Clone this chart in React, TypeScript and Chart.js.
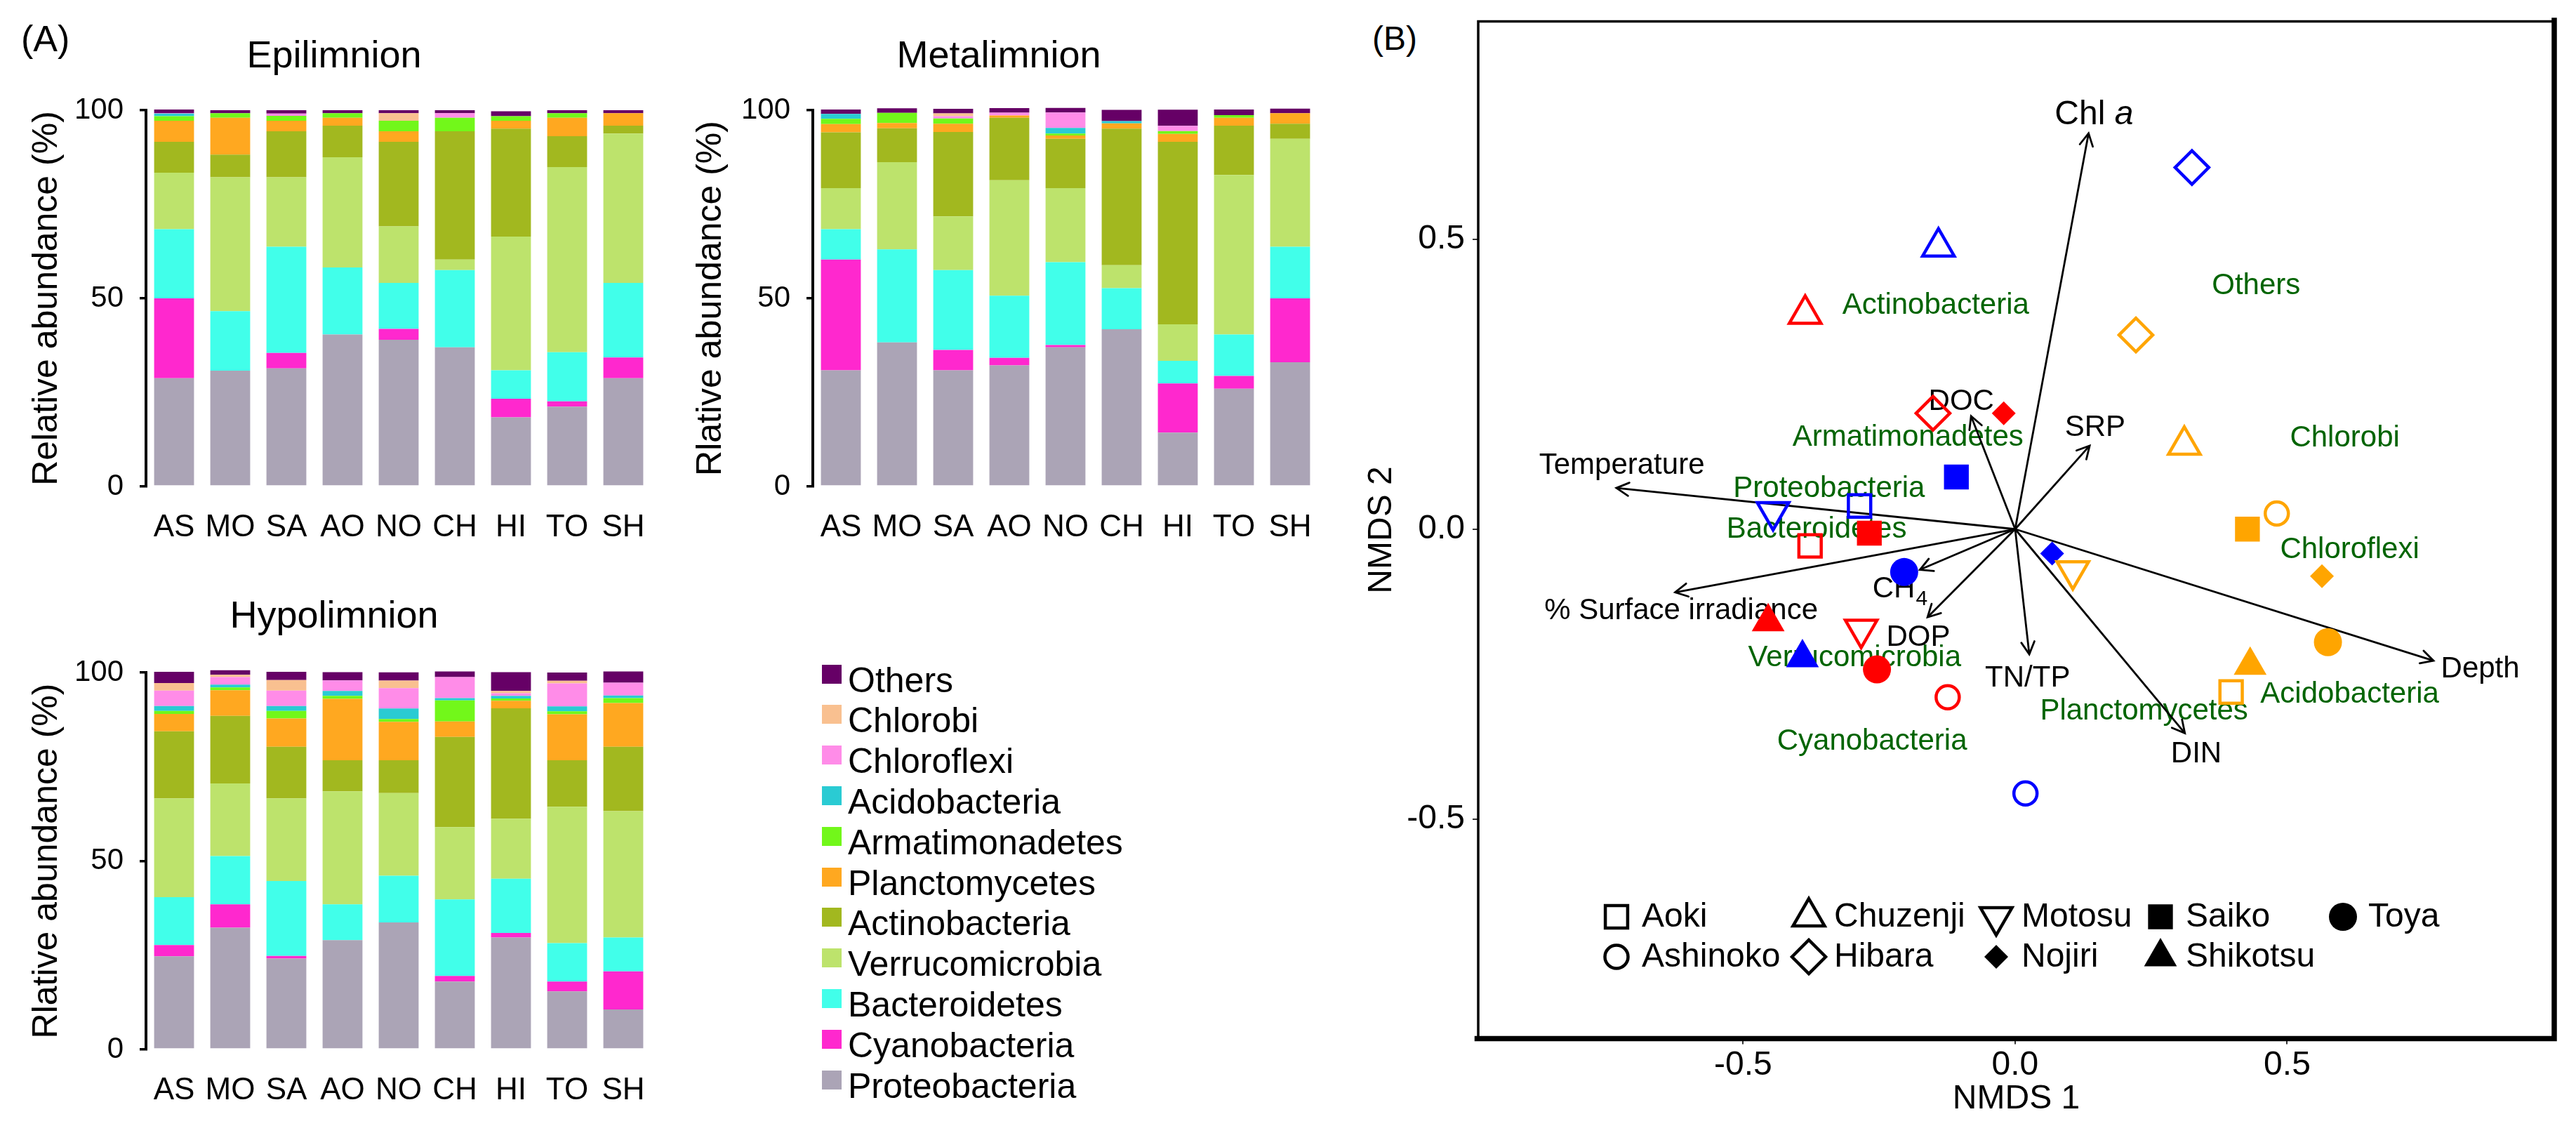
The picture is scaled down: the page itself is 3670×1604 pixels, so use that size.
import React, { useEffect, useRef } from 'react';
import { Chart, registerables } from 'chart.js';

Chart.register(...registerables);

const FONT = '"Liberation Sans", Arial, Helvetica, sans-serif';
Chart.defaults.font.family = FONT;
Chart.defaults.color = '#000';

// ---------- Panel A data ----------
const LAKES = ['AS', 'MO', 'SA', 'AO', 'NO', 'CH', 'HI', 'TO', 'SH'];
const PHYLA = ['Proteobacteria', 'Cyanobacteria', 'Bacteroidetes', 'Verrucomicrobia', 'Actinobacteria',
  'Planctomycetes', 'Armatimonadetes', 'Acidobacteria', 'Chloroflexi', 'Chlorobi', 'Others'];
const PHYLA_COLORS = ['#ABA4B6', '#FF28CE', '#41FFEA', '#BDE36C', '#A2B81F',
  '#FFA820', '#72F71A', '#2ACBD3', '#FF8CE8', '#F9C090', '#660066'];
const BAR_TICKS = [0, 50, 100];

// rows follow PHYLA order, columns follow LAKES order (%)
const EPILIMNION = [
  [28.8, 30.8, 31.4, 40.4, 39.0, 37.0, 18.4, 21.2, 28.8],
  [21.2, 0, 4.1, 0, 2.9, 0, 4.9, 1.4, 5.5],
  [18.4, 15.8, 28.2, 17.8, 12.2, 20.5, 7.6, 13.1, 19.8],
  [15.0, 35.6, 18.5, 29.3, 15.0, 2.8, 35.5, 49.2, 39.7],
  [8.2, 6.0, 12.2, 8.4, 22.5, 34.1, 28.7, 8.2, 2.1],
  [5.6, 9.8, 2.8, 2.1, 2.8, 0, 2.1, 4.9, 3.3],
  [1.2, 1.2, 1.3, 1.2, 2.8, 3.6, 1.2, 1.2, 0],
  [0.7, 0, 0, 0, 0, 0, 0, 0, 0],
  [0.1, 0, 0.6, 0, 0, 1.2, 0, 0, 0],
  [0, 0, 0, 0, 2.0, 0, 0, 0, 0],
  [1.0, 0.8, 0.9, 0.8, 0.8, 0.8, 1.3, 0.8, 0.8],
];
const METALIMNION = [
  [30.9, 38.3, 30.9, 32.2, 37.0, 41.8, 14.3, 26.0, 33.0],
  [29.4, 0, 5.4, 2.0, 0.6, 0, 13.1, 3.4, 17.0],
  [8.1, 24.7, 21.2, 16.5, 22.0, 10.9, 6.0, 11.0, 13.7],
  [10.9, 23.2, 14.3, 30.7, 19.7, 6.1, 9.7, 42.4, 28.7],
  [14.8, 9.0, 22.4, 16.6, 13.1, 36.3, 48.5, 13.1, 4.0],
  [2.2, 1.4, 2.2, 0.6, 0.9, 1.4, 2.1, 2.1, 2.8],
  [1.4, 2.7, 1.4, 0, 0.5, 0, 0.75, 0.7, 0],
  [1.3, 0, 0, 0, 1.5, 0.6, 0, 0, 0],
  [0, 0, 0.6, 0.75, 4.1, 0, 1.4, 0, 0],
  [0, 0, 0.75, 0, 0, 0, 0, 0, 0],
  [1.2, 1.2, 1.2, 1.2, 1.2, 3.0, 4.3, 1.5, 1.2],
];
const HYPOLIMNION = [
  [24.7, 32.3, 24.1, 29.0, 33.7, 18.0, 29.7, 15.4, 10.6],
  [3.0, 6.2, 0.7, 0, 0, 1.5, 1.2, 2.6, 10.1],
  [12.7, 12.8, 19.9, 9.5, 12.4, 20.3, 14.4, 10.2, 9.0],
  [26.2, 19.3, 21.9, 30.0, 21.9, 19.2, 15.9, 36.2, 33.5],
  [17.8, 17.9, 13.7, 8.2, 8.7, 23.9, 29.3, 12.3, 17.1],
  [4.6, 6.8, 7.5, 16.3, 10.2, 4.1, 2.0, 12.2, 11.6],
  [0.8, 0.75, 2.0, 0.8, 0.75, 5.6, 0.6, 0.8, 1.3],
  [1.3, 0.75, 1.3, 1.3, 2.8, 0.6, 0.7, 1.3, 0.7],
  [4.1, 2.0, 4.1, 2.8, 5.4, 5.6, 0.7, 6.1, 3.4],
  [2.0, 0.6, 2.8, 0, 2.0, 0, 0.6, 0.7, 0],
  [3.0, 1.2, 2.2, 2.2, 2.2, 1.5, 5.0, 2.2, 3.0],
];

// ---------- Panel B data ----------
const LAKE_NAMES = ['Aoki', 'Ashinoko', 'Chuzenji', 'Hibara', 'Motosu', 'Nojiri', 'Saiko', 'Shikotsu', 'Toya'];
const LAYER_COLORS = ['#0000FF', '#FF0000', '#FFA500']; // epi, meta, hypo
const NMDS_EPI_X = [-0.286, 0.019, -0.141, 0.325, -0.445, 0.068, -0.108, -0.391, -0.204];
const NMDS_EPI_Y = [0.040, -0.456, 0.487, 0.624, 0.030, -0.042, 0.090, -0.222, -0.074];
const NMDS_META_X = [-0.377, -0.124, -0.386, -0.151, -0.283, -0.021, -0.268, -0.454, -0.254];
const NMDS_META_Y = [-0.029, -0.290, 0.371, 0.200, -0.173, 0.200, -0.007, -0.160, -0.242];
const NMDS_HYPO_X = [0.397, 0.481, 0.311, 0.222, 0.106, 0.564, 0.427, 0.432, 0.575];
const NMDS_HYPO_Y = [-0.281, 0.027, 0.145, 0.335, -0.072, -0.081, 0.000, -0.235, -0.195];
const NMDS_TICKS = [-0.5, 0, 0.5];

const ENV_NAMES = ['Chl a', 'DOC', 'SRP', 'Temperature', '% Surface irradiance', 'CH4', 'DOP', 'TN/TP', 'DIN', 'Depth'];
const ENV_X = [0.135, -0.081, 0.137, -0.733, -0.625, -0.175, -0.161, 0.026, 0.312, 0.769];
const ENV_Y = [0.683, 0.195, 0.144, 0.071, -0.109, -0.070, -0.152, -0.216, -0.352, -0.227];
const ENV_LABEL_X = [0.145, -0.099, 0.147, -0.723, -0.614, -0.223, -0.178, 0.023, 0.333, 0.855];
const ENV_LABEL_Y = [0.715, 0.220, 0.175, 0.110, -0.141, -0.104, -0.187, -0.258, -0.388, -0.242];

const SPECIES_NAMES = ['Others', 'Actinobacteria', 'Armatimonadetes', 'Chlorobi', 'Proteobacteria', 'Bacteroidetes',
  'Chloroflexi', 'Verrucomicrobia', 'Acidobacteria', 'Planctomycetes', 'Cyanobacteria'];
const SPECIES_X = [0.443, -0.146, -0.197, 0.606, -0.342, -0.365, 0.615, -0.295, 0.615, 0.237, -0.263];
const SPECIES_Y = [0.420, 0.386, 0.158, 0.157, 0.069, -0.001, -0.036, -0.222, -0.285, -0.314, -0.367];

// marker styles per lake (style, radius, rotation, filled)
const LAKE_MARKERS = [
  { style: 'rect', r: 22.5, rot: 0, filled: false },
  { style: 'circle', r: 16.5, rot: 0, filled: false },
  { style: 'triangle', r: 26, rot: 0, filled: false },
  { style: 'rectRot', r: 24, rot: 0, filled: false },
  { style: 'triangle', r: 26, rot: 180, filled: false },
  { style: 'rectRot', r: 17, rot: 0, filled: true },
  { style: 'rect', r: 25, rot: 0, filled: true },
  { style: 'triangle', r: 27, rot: 0, filled: true },
  { style: 'circle', r: 20, rot: 0, filled: true },
];

const SPECIES_COLOR = '#006400';

function markerPath(ctx: CanvasRenderingContext2D, style: string, x: number, y: number, r: number, rot: number) {
  ctx.beginPath();
  if (style === 'circle') {
    ctx.arc(x, y, r, 0, Math.PI * 2);
  } else if (style === 'rect') {
    const s = r * Math.SQRT1_2;
    ctx.rect(x - s, y - s, 2 * s, 2 * s);
  } else if (style === 'rectRot') {
    ctx.moveTo(x - r, y);
    ctx.lineTo(x, y - r);
    ctx.lineTo(x + r, y);
    ctx.lineTo(x, y + r);
    ctx.closePath();
  } else {
    let a = (rot * Math.PI) / 180;
    for (let k = 0; k < 3; k++) {
      const px = x + Math.sin(a) * r;
      const py = y - Math.cos(a) * r;
      if (k === 0) ctx.moveTo(px, py);
      else ctx.lineTo(px, py);
      a += (2 * Math.PI) / 3;
    }
    ctx.closePath();
  }
}

function BarPanel(props: { left: number; top: number; height: number; padTop: number; values: number[][]; yTitle: string; titlePad: number }) {
  const ref = useRef<HTMLCanvasElement>(null);
  useEffect(() => {
    const chart = new Chart(ref.current as HTMLCanvasElement, {
      type: 'bar',
      data: {
        labels: LAKES,
        datasets: PHYLA.map((name, i) => ({
          label: name,
          data: props.values[i],
          backgroundColor: PHYLA_COLORS[i],
          borderWidth: 0,
          barPercentage: 0.71,
          categoryPercentage: 1,
          clip: false as any,
        })),
      },
      options: {
        responsive: false,
        animation: false,
        devicePixelRatio: 1,
        layout: { padding: { top: props.padTop, right: 12, left: 0, bottom: 0 } },
        plugins: { legend: { display: false }, tooltip: { enabled: false }, title: { display: false } },
        scales: {
          x: {
            stacked: true,
            grid: { display: false },
            border: { display: false },
            ticks: { font: { family: FONT, size: 44 }, color: '#000', padding: 24, maxRotation: 0, autoSkip: false },
            afterFit: (s: any) => { s.height = 90; s.paddingLeft = 0; s.paddingRight = 0; },
          },
          y: {
            stacked: true,
            min: 0,
            max: 100,
            grid: { drawOnChartArea: false, drawTicks: true, tickLength: 9, color: '#000', lineWidth: 3.5 },
            border: { display: true, color: '#000', width: 4 },
            ticks: { font: { family: FONT, size: 42 }, color: '#000', padding: 23 },
            afterBuildTicks: (s: any) => { s.ticks = BAR_TICKS.map((v) => ({ value: v })); },
            afterFit: (s: any) => { s.width = 208; s.paddingTop = 0; s.paddingBottom = 0; },
            title: { display: true, text: props.yTitle, font: { family: FONT, size: 50 }, color: '#000', padding: { top: props.titlePad, bottom: 0 } },
          },
        },
      } as any,
    });
    return () => chart.destroy();
  }, []);
  return (
    <canvas
      ref={ref}
      width={940}
      height={props.height}
      style={{ position: 'absolute', left: props.left, top: props.top, width: 940, height: props.height }}
    />
  );
}

function NmdsPanel() {
  const ref = useRef<HTMLCanvasElement>(null);
  useEffect(() => {
    const arrowSets = ENV_NAMES.map((name, i) => ({
      label: name,
      isArrow: true,
      data: [{ x: 0, y: 0 }, { x: ENV_X[i], y: ENV_Y[i] }],
      showLine: true,
      borderColor: '#000',
      borderWidth: 2.8,
      pointRadius: 0,
      order: 10,
    }));
    const lakeSets = LAKE_NAMES.map((name, i) => {
      const m = LAKE_MARKERS[i];
      return {
        label: name,
        data: [
          { x: NMDS_EPI_X[i], y: NMDS_EPI_Y[i] },
          { x: NMDS_META_X[i], y: NMDS_META_Y[i] },
          { x: NMDS_HYPO_X[i], y: NMDS_HYPO_Y[i] },
        ],
        showLine: false,
        pointStyle: m.style,
        pointRadius: m.r,
        pointRotation: m.rot,
        pointBorderColor: LAYER_COLORS,
        pointBackgroundColor: m.filled ? LAYER_COLORS : 'rgba(0,0,0,0)',
        pointBorderWidth: m.filled ? 0 : 4.5,
        order: 1,
      };
    });

    const decor = {
      id: 'nmdsDecor',
      beforeDatasetsDraw(chart: any) {
        const ctx: CanvasRenderingContext2D = chart.ctx;
        const xs = chart.scales.x;
        const ys = chart.scales.y;
        ctx.save();
        ctx.textAlign = 'center';
        ctx.textBaseline = 'middle';
        ctx.font = `42px ${FONT}`;
        ctx.fillStyle = SPECIES_COLOR;
        SPECIES_NAMES.forEach((n, i) => {
          ctx.fillText(n, xs.getPixelForValue(SPECIES_X[i]), ys.getPixelForValue(SPECIES_Y[i]));
        });
        ctx.fillStyle = '#000';
        ENV_NAMES.forEach((n, i) => {
          const px = xs.getPixelForValue(ENV_LABEL_X[i]);
          const py = ys.getPixelForValue(ENV_LABEL_Y[i]);
          if (n === 'CH4') {
            ctx.font = `42px ${FONT}`;
            ctx.textAlign = 'center';
            ctx.fillText('CH', px, py);
            const w = ctx.measureText('CH').width;
            ctx.font = `30px ${FONT}`;
            ctx.textAlign = 'left';
            ctx.fillText('4', px + w / 2 + 1, py + 14);
            ctx.textAlign = 'center';
            ctx.font = `42px ${FONT}`;
          } else if (n === 'Chl a') {
            ctx.font = `48px ${FONT}`;
            const w1 = ctx.measureText('Chl ').width;
            ctx.font = `italic 48px ${FONT}`;
            const w2 = ctx.measureText('a').width;
            const sx = px - (w1 + w2) / 2;
            ctx.textAlign = 'left';
            ctx.font = `48px ${FONT}`;
            ctx.fillText('Chl ', sx, py);
            ctx.font = `italic 48px ${FONT}`;
            ctx.fillText('a', sx + w1, py);
            ctx.textAlign = 'center';
            ctx.font = `42px ${FONT}`;
          } else {
            ctx.fillText(n, px, py);
          }
        });
        ctx.restore();
      },
      afterDatasetDraw(chart: any, args: any) {
        const ds = chart.data.datasets[args.index];
        if (!ds.isArrow) return;
        const ctx: CanvasRenderingContext2D = chart.ctx;
        const xs = chart.scales.x;
        const ys = chart.scales.y;
        const x0 = xs.getPixelForValue(ds.data[0].x);
        const y0 = ys.getPixelForValue(ds.data[0].y);
        const x1 = xs.getPixelForValue(ds.data[1].x);
        const y1 = ys.getPixelForValue(ds.data[1].y);
        const ang = Math.atan2(y1 - y0, x1 - x0);
        const L = 20;
        const spread = (28 * Math.PI) / 180;
        ctx.save();
        ctx.strokeStyle = '#000';
        ctx.lineWidth = 2.8;
        ctx.lineCap = 'round';
        ctx.beginPath();
        ctx.moveTo(x1 - L * Math.cos(ang - spread), y1 - L * Math.sin(ang - spread));
        ctx.lineTo(x1, y1);
        ctx.lineTo(x1 - L * Math.cos(ang + spread), y1 - L * Math.sin(ang + spread));
        ctx.stroke();
        ctx.restore();
      },
      afterDraw(chart: any) {
        const ctx: CanvasRenderingContext2D = chart.ctx;
        const a = chart.chartArea;
        ctx.save();
        ctx.strokeStyle = '#000';
        ctx.lineCap = 'square';
        ctx.lineWidth = 3.5;
        ctx.beginPath();
        ctx.moveTo(a.left, a.bottom);
        ctx.lineTo(a.left, a.top);
        ctx.lineTo(a.right, a.top);
        ctx.stroke();
        ctx.lineWidth = 7.5;
        ctx.beginPath();
        ctx.moveTo(a.right, a.top - 1.5);
        ctx.lineTo(a.right, a.bottom);
        ctx.lineTo(a.left - 1.5, a.bottom);
        ctx.stroke();

        // legend
        const colX = [363, 637, 904, 1138, 1398];
        const rowY = [1306, 1363];
        ctx.font = `48px ${FONT}`;
        ctx.textAlign = 'left';
        ctx.textBaseline = 'middle';
        LAKE_NAMES.forEach((name, i) => {
          const m = LAKE_MARKERS[i];
          const cx = colX[Math.floor(i / 2)];
          const cy = rowY[i % 2];
          markerPath(ctx, m.style, cx, cy, m.r, m.rot);
          if (m.filled) {
            ctx.fillStyle = '#000';
            ctx.fill();
          } else {
            ctx.lineWidth = 4.5;
            ctx.lineCap = 'butt';
            ctx.strokeStyle = '#000';
            ctx.stroke();
          }
          ctx.fillStyle = '#000';
          ctx.fillText(name, cx + 36, cy + 1);
        });
        ctx.restore();
      },
    };

    const chart = new Chart(ref.current as HTMLCanvasElement, {
      type: 'scatter',
      data: { datasets: [...arrowSets, ...lakeSets] as any },
      options: {
        responsive: false,
        animation: false,
        devicePixelRatio: 1,
        layout: { padding: { top: 24.5, right: 31, left: 0, bottom: 0 } },
        plugins: { legend: { display: false }, tooltip: { enabled: false } },
        scales: {
          x: {
            type: 'linear',
            min: -0.987,
            max: 0.991,
            grid: { drawOnChartArea: false, drawTicks: true, tickLength: 8, color: '#333', lineWidth: 2 },
            border: { display: false },
            ticks: { font: { family: FONT, size: 48 }, color: '#000', padding: 1, callback: (v: any) => Number(v).toFixed(1) },
            afterBuildTicks: (s: any) => { s.ticks = NMDS_TICKS.map((v) => ({ value: v })); },
            afterFit: (s: any) => { s.height = 124.5; s.paddingLeft = 0; s.paddingRight = 0; },
            title: { display: true, text: 'NMDS 1', font: { family: FONT, size: 48 }, color: '#000', padding: { top: 0, bottom: 9 } },
          },
          y: {
            type: 'linear',
            min: -0.879,
            max: 0.876,
            grid: { drawOnChartArea: false, drawTicks: true, tickLength: 8, color: '#333', lineWidth: 2 },
            border: { display: false },
            ticks: { font: { family: FONT, size: 48 }, color: '#000', padding: 11, callback: (v: any) => Number(v).toFixed(1) },
            afterBuildTicks: (s: any) => { s.ticks = NMDS_TICKS.map((v) => ({ value: v })); },
            afterFit: (s: any) => { s.width = 166; s.paddingTop = 0; s.paddingBottom = 0; },
            title: { display: true, text: 'NMDS 2', font: { family: FONT, size: 48 }, color: '#000', padding: { top: 0, bottom: 0 } },
          },
        },
      } as any,
      plugins: [decor as any],
    });
    return () => chart.destroy();
  }, []);
  return (
    <canvas
      ref={ref}
      width={1730}
      height={1604}
      style={{ position: 'absolute', left: 1940, top: 0, width: 1730, height: 1604 }}
    />
  );
}

function Txt(props: { text: string; x: number; baseline: number; size: number; center?: boolean }) {
  return (
    <div
      style={{
        position: 'absolute',
        left: props.x,
        top: props.baseline - 0.8465 * props.size,
        fontFamily: FONT,
        fontSize: props.size,
        lineHeight: `${props.size}px`,
        whiteSpace: 'nowrap',
        color: '#000',
        transform: props.center ? 'translateX(-50%)' : undefined,
      }}
    >
      {props.text}
    </div>
  );
}

export default function App() {
  useEffect(() => {
    document.body.style.margin = '0';
  }, []);
  const legendItems = PHYLA.map((p, i) => ({ name: p, color: PHYLA_COLORS[i] })).reverse();
  return (
    <div style={{ position: 'absolute', left: 0, top: 0, width: 3670, height: 1604, background: '#fff', overflow: 'hidden' }}>
      <Txt text="(A)" x={30} baseline={73} size={52} />
      <Txt text="(B)" x={1955} baseline={72} size={48} />
      <Txt text="Epilimnion" x={476} baseline={96} size={54} center />
      <Txt text="Metalimnion" x={1423} baseline={96} size={54} center />
      <Txt text="Hypolimnion" x={476} baseline={894} size={54} center />

      <BarPanel left={0} top={100} height={683} padTop={57} values={EPILIMNION} yTitle="Relative abundance (%)" titlePad={37} />
      <BarPanel left={950} top={100} height={683} padTop={57} values={METALIMNION} yTitle="Rlative abundance (%)" titlePad={33} />
      <BarPanel left={0} top={900} height={685} padTop={58} values={HYPOLIMNION} yTitle="Rlative abundance (%)" titlePad={37} />

      {legendItems.map((it, i) => (
        <React.Fragment key={it.name}>
          <div
            style={{
              position: 'absolute',
              left: 1171,
              top: 960 + i * 57.8 - 13.5,
              width: 28,
              height: 27,
              background: it.color,
            }}
          />
          <Txt text={it.name} x={1208} baseline={986 + i * 57.8} size={50} />
        </React.Fragment>
      ))}

      <NmdsPanel />
    </div>
  );
}
